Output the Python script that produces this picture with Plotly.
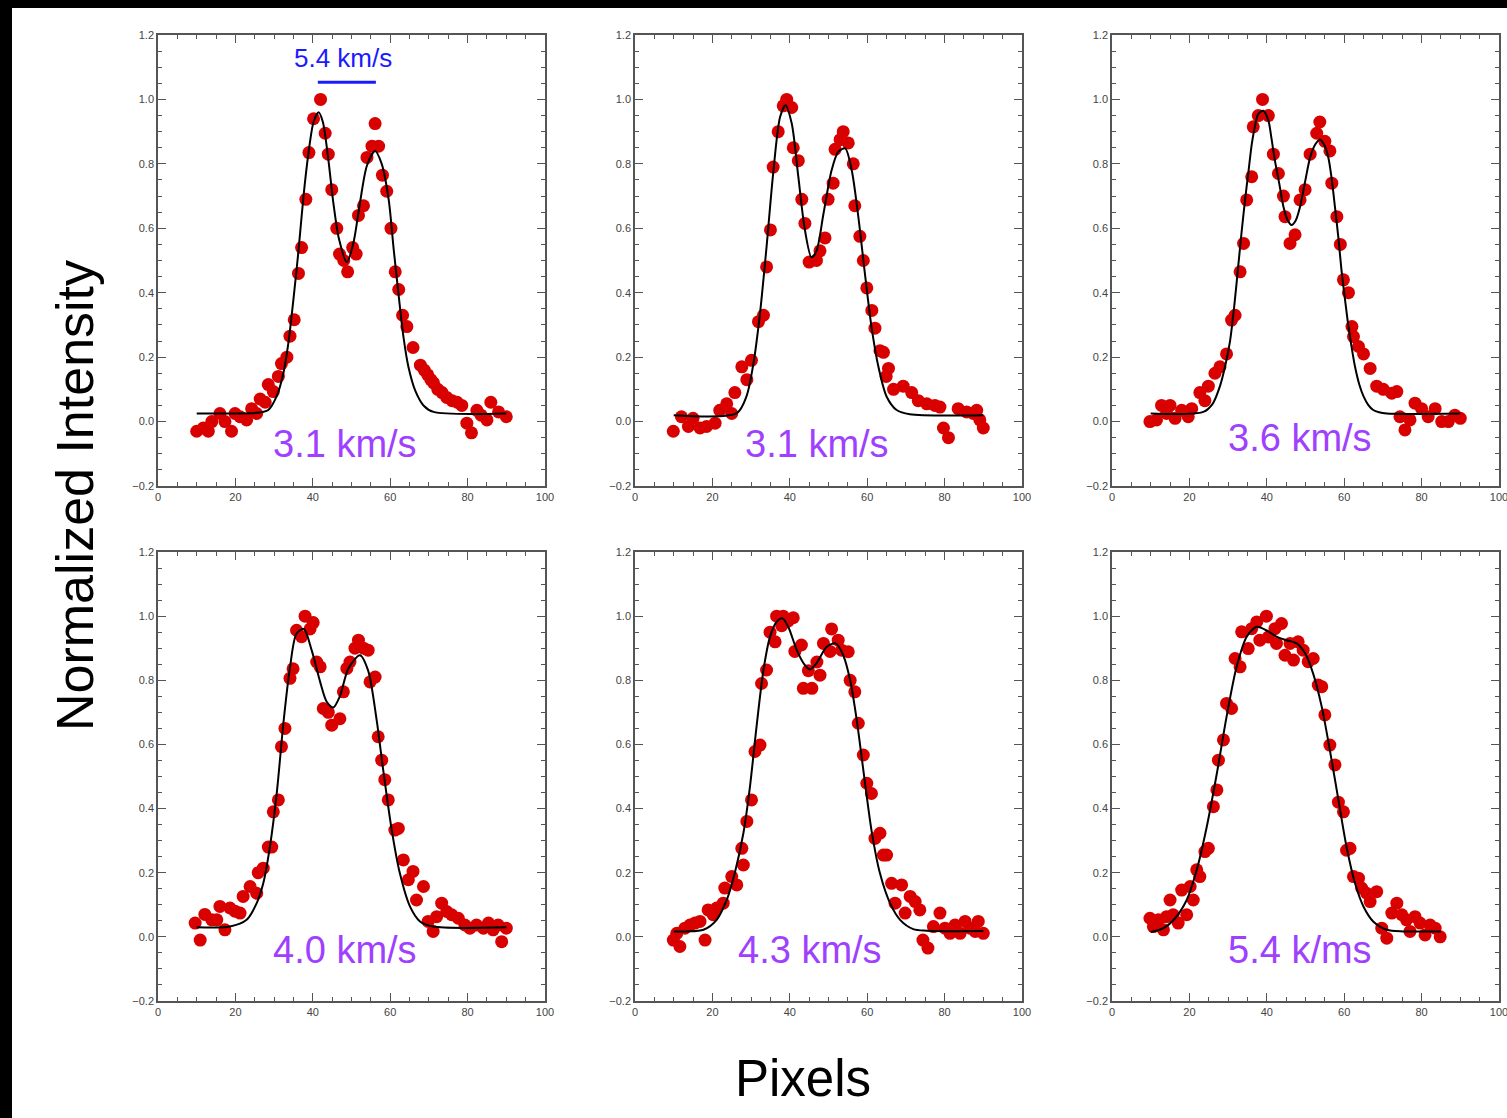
import plotly.graph_objects as go

# ---------------- data ----------------
labels = ["3.1 km/s", "3.1 km/s", "3.6 km/s", "4.0 km/s", "4.3 km/s", "5.4 k/ms"]

p1_x = [10.0, 11.7, 13.0, 13.9, 16.0, 17.3, 19.0, 19.9, 21.2, 22.9, 24.2, 25.5, 26.4, 27.7, 28.5, 29.8, 31.1, 31.9, 33.3, 34.1,
        35.2, 36.3, 37.1, 38.2, 39.0, 40.2, 42.0, 43.2, 44.0, 44.9, 46.2, 46.9, 48.0, 49.0, 50.3, 51.2, 51.8, 53.1, 54.0, 55.3,
        56.1, 57.0, 58.0, 59.1, 60.2, 61.3, 62.2, 63.2, 64.3, 65.9, 67.8, 68.8, 69.7, 70.5, 71.2, 72.3, 73.4, 74.6, 76.0, 77.3,
        78.5, 79.8, 81.0, 82.4, 83.5, 85.0, 86.0, 88.0, 90.0]
p1_y = [-0.03, -0.02, -0.03, 0.0, 0.025, 0.0, -0.03, 0.025, 0.015, 0.005, 0.04, 0.025, 0.07, 0.06, 0.115, 0.093, 0.14, 0.18, 0.2, 0.265,
        0.316, 0.46, 0.54, 0.69, 0.835, 0.94, 1.0, 0.895, 0.83, 0.72, 0.6, 0.52, 0.5, 0.465, 0.54, 0.52, 0.64, 0.67, 0.82, 0.855,
        0.925, 0.855, 0.765, 0.715, 0.6, 0.465, 0.41, 0.33, 0.295, 0.23, 0.175, 0.16, 0.145, 0.13, 0.12, 0.10, 0.09, 0.075, 0.065, 0.06,
        0.05, -0.005, -0.035, 0.035, 0.02, 0.005, 0.06, 0.03, 0.015]
f1_x = [10, 25.5, 27.0, 28.5, 30.7, 32.4, 33.7, 35.0, 36.3, 37.6, 38.9, 40.2, 41.5, 42.6, 44.0, 45.3, 46.8, 48.8, 50.5, 52.2,
        54.0, 56.1, 57.8, 59.6, 60.9, 62.2, 63.4, 64.7, 66.5, 68.6, 71.2, 90]
f1_y = [0.025, 0.027, 0.03, 0.036, 0.08, 0.15, 0.245, 0.38, 0.53, 0.70, 0.835, 0.93, 0.96, 0.93, 0.815, 0.68, 0.565, 0.495, 0.555, 0.68,
        0.795, 0.84, 0.80, 0.69, 0.535, 0.39, 0.265, 0.17, 0.095, 0.05, 0.03, 0.025]

p2_x = [9.9, 12.0, 13.8, 15.0, 16.8, 18.5, 20.7, 21.9, 23.7, 25.0, 25.8, 27.6, 28.9, 30.1, 31.9, 33.2, 34.0, 35.0, 35.7, 37.0,
        38.3, 39.2, 40.5, 40.9, 42.2, 43.1, 43.9, 45.0, 46.9, 47.8, 49.1, 49.9, 51.2, 51.7, 53.0, 53.8, 55.1, 56.4, 56.8, 58.1,
        59.0, 59.9, 61.2, 62.0, 63.3, 64.2, 64.9, 65.5, 66.8, 69.3, 71.5, 73.2, 75.4, 77.5, 78.8, 79.7, 81.0, 83.5, 85.7, 87.4,
        88.3, 89.1, 90.0]
p2_y = [-0.03, 0.015, -0.015, 0.01, -0.02, -0.015, -0.005, 0.035, 0.055, 0.025, 0.09, 0.17, 0.13, 0.19, 0.31, 0.33, 0.48, 0.595, 0.79, 0.90,
        0.98, 1.0, 0.975, 0.85, 0.81, 0.69, 0.615, 0.495, 0.50, 0.53, 0.57, 0.69, 0.74, 0.845, 0.875, 0.90, 0.865, 0.80, 0.67, 0.575,
        0.50, 0.415, 0.345, 0.29, 0.22, 0.215, 0.14, 0.165, 0.10, 0.11, 0.09, 0.065, 0.055, 0.05, 0.045, -0.02, -0.05, 0.04, 0.03, 0.025,
        0.035, 0.005, -0.02]
f2_x = [10, 26.3, 28.8, 30.6, 32.3, 34.0, 35.7, 37.5, 38.9, 40.5, 42.2, 43.9, 45.6, 46.9, 48.7, 50.8, 52.5, 54.3, 56.0, 57.7,
        59.4, 61.1, 62.9, 65.0, 67.6, 71.0, 90]
f2_y = [0.02, 0.026, 0.078, 0.18, 0.336, 0.543, 0.77, 0.946, 0.982, 0.925, 0.76, 0.595, 0.51, 0.53, 0.645, 0.78, 0.837, 0.848, 0.78, 0.636,
        0.46, 0.295, 0.17, 0.078, 0.036, 0.023, 0.02]

p3_x = [9.8, 11.5, 12.8, 14.1, 15.0, 16.3, 18.0, 19.7, 20.6, 22.7, 24.0, 24.9, 26.6, 27.9, 29.6, 30.9, 31.8, 33.1, 34.0, 34.8,
        36.1, 36.5, 37.8, 38.9, 40.4, 41.7, 43.0, 44.3, 44.7, 46.0, 47.3, 48.6, 49.9, 51.2, 52.9, 53.7, 55.0, 56.3, 56.8, 58.1,
        59.0, 59.8, 61.1, 62.0, 62.4, 63.7, 65.0, 66.7, 68.4, 70.1, 72.3, 73.6, 74.4, 75.7, 77.0, 78.3, 80.0, 81.7, 83.5, 85.2,
        86.9, 88.6, 90.0]
p3_y = [0.0, 0.005, 0.05, 0.025, 0.05, 0.01, 0.035, 0.015, 0.04, 0.09, 0.065, 0.11, 0.15, 0.17, 0.21, 0.315, 0.33, 0.465, 0.553, 0.688,
        0.76, 0.915, 0.95, 1.0, 0.95, 0.83, 0.77, 0.70, 0.636, 0.553, 0.58, 0.688, 0.72, 0.83, 0.895, 0.93, 0.87, 0.84, 0.74, 0.636,
        0.55, 0.44, 0.40, 0.295, 0.264, 0.233, 0.21, 0.165, 0.11, 0.10, 0.088, 0.093, 0.015, -0.026, 0.005, 0.057, 0.04, 0.015, 0.04, 0.0,
        0.0, 0.02, 0.01]
f3_x = [10, 23.6, 26.0, 27.9, 29.2, 30.5, 31.6, 32.6, 33.5, 34.4, 35.3, 36.1, 37.0, 37.8, 39.1, 40.4, 41.2, 42.1, 43.2, 44.3,
        45.4, 46.4, 47.5, 48.6, 49.9, 51.2, 52.5, 53.7, 54.8, 55.9, 56.8, 57.6, 58.5, 59.3, 60.2, 61.1, 62.0, 62.8, 63.9, 65.0,
        66.2, 67.5, 69.0, 71.0, 90]
f3_y = [0.025, 0.03, 0.055, 0.11, 0.17, 0.25, 0.36, 0.48, 0.59, 0.69, 0.78, 0.86, 0.92, 0.955, 0.965, 0.935, 0.88, 0.81, 0.74, 0.667,
        0.625, 0.61, 0.625, 0.667, 0.745, 0.82, 0.86, 0.875, 0.86, 0.82, 0.75, 0.667, 0.57, 0.47, 0.38, 0.295, 0.225, 0.17, 0.115, 0.078,
        0.052, 0.036, 0.029, 0.025, 0.025]

p4_x = [9.6, 10.9, 12.1, 13.9, 15.2, 16.0, 17.3, 18.6, 19.9, 21.2, 22.0, 23.8, 25.5, 25.9, 27.2, 28.5, 29.4, 29.8, 31.1, 31.9,
        32.8, 34.1, 34.9, 35.8, 37.1, 38.0, 39.3, 40.1, 41.0, 41.9, 42.7, 44.0, 44.9, 47.0, 47.9, 48.8, 49.6, 50.9, 51.8, 53.1,
        54.3, 54.8, 56.1, 56.9, 57.8, 58.6, 59.5, 61.2, 62.1, 63.4, 64.7, 65.9, 66.8, 68.6, 69.8, 71.1, 72.0, 73.3, 74.6, 75.9,
        77.6, 79.3, 80.6, 82.3, 84.1, 85.4, 86.6, 87.9, 88.8, 90.0]
p4_y = [0.043, -0.01, 0.07, 0.053, 0.053, 0.095, 0.022, 0.09, 0.08, 0.074, 0.126, 0.157, 0.136, 0.20, 0.214, 0.28, 0.28, 0.39, 0.427, 0.593,
        0.65, 0.806, 0.836, 0.956, 0.936, 1.0, 0.96, 0.98, 0.857, 0.842, 0.712, 0.70, 0.66, 0.68, 0.764, 0.837, 0.857, 0.90, 0.925, 0.90,
        0.894, 0.795, 0.81, 0.624, 0.551, 0.49, 0.427, 0.333, 0.338, 0.24, 0.178, 0.204, 0.115, 0.157, 0.048, 0.017, 0.063, 0.105, 0.079, 0.069,
        0.058, 0.037, 0.027, 0.037, 0.027, 0.043, 0.022, 0.037, -0.015, 0.027]
f4_x = [10, 18.6, 22.9, 25.5, 27.2, 28.9, 30.7, 32.4, 34.1, 35.8, 37.7, 39.7, 41.9, 43.6, 45.3, 47.0, 49.2, 52.2, 54.3, 56.5,
        58.2, 60.4, 62.5, 65.1, 67.7, 71.1, 90]
f4_y = [0.03, 0.032, 0.053, 0.105, 0.167, 0.28, 0.45, 0.666, 0.84, 0.946, 0.96, 0.894, 0.795, 0.733, 0.715, 0.75, 0.837, 0.878, 0.83, 0.676,
        0.52, 0.333, 0.198, 0.095, 0.048, 0.032, 0.03]

p5_x = [9.9, 10.8, 11.6, 12.9, 14.2, 15.5, 16.8, 18.1, 18.9, 20.2, 21.1, 22.8, 23.2, 25.0, 26.3, 27.6, 28.0, 28.9, 30.1, 31.0,
        32.3, 32.7, 34.0, 34.9, 36.2, 36.6, 37.9, 38.3, 39.6, 40.9, 41.3, 43.0, 43.5, 44.8, 45.7, 47.0, 47.8, 48.7, 50.4, 50.8,
        52.5, 53.4, 55.1, 55.6, 56.8, 57.7, 59.0, 59.9, 61.1, 62.0, 63.3, 64.2, 65.0, 66.3, 67.2, 68.9, 69.8, 71.1, 72.4, 73.6,
        74.4, 75.7, 77.1, 78.8, 80.1, 81.4, 82.7, 84.0, 85.3, 86.6, 87.9, 88.7, 90.0]
p5_y = [-0.01, 0.011, -0.03, 0.027, 0.037, 0.043, 0.048, -0.01, 0.084, 0.069, 0.09, 0.105, 0.152, 0.188, 0.162, 0.276, 0.224, 0.36, 0.427, 0.578,
        0.598, 0.79, 0.832, 0.95, 0.92, 1.0, 0.97, 1.0, 0.985, 0.995, 0.89, 0.91, 0.775, 0.83, 0.775, 0.857, 0.816, 0.915, 0.89, 0.96,
        0.925, 0.894, 0.889, 0.80, 0.764, 0.666, 0.567, 0.479, 0.447, 0.307, 0.323, 0.255, 0.255, 0.167, 0.105, 0.162, 0.074, 0.126, 0.11, 0.084,
        -0.01, -0.035, 0.032, 0.074, 0.027, 0.011, 0.037, 0.011, 0.048, 0.027, 0.017, 0.048, 0.011]
f5_x = [10, 13.3, 17.7, 21.1, 23.7, 25.8, 28.0, 29.7, 31.4, 33.2, 34.9, 36.6, 38.1, 39.6, 41.8, 43.9, 45.2, 46.9, 49.5, 51.9,
        53.8, 55.6, 57.3, 59.0, 61.1, 63.3, 65.9, 68.5, 71.9, 75.4, 90]
f5_y = [0.017, 0.017, 0.022, 0.053, 0.115, 0.2, 0.323, 0.468, 0.655, 0.832, 0.936, 0.982, 0.993, 0.967, 0.894, 0.847, 0.834, 0.853, 0.904, 0.915,
        0.878, 0.80, 0.676, 0.52, 0.333, 0.198, 0.105, 0.053, 0.024, 0.019, 0.018]

p6_x = [9.8, 10.7, 12.0, 13.3, 14.1, 15.0, 15.8, 17.1, 18.0, 19.3, 20.2, 21.0, 21.9, 22.7, 24.0, 24.9, 26.2, 27.1, 27.5, 28.8,
        29.6, 30.9, 31.8, 33.1, 33.5, 35.2, 36.1, 37.4, 38.2, 39.9, 40.4, 42.1, 42.5, 43.8, 44.7, 46.0, 46.9, 48.1, 49.4, 50.7,
        52.0, 53.3, 54.2, 55.0, 56.3, 57.6, 58.5, 59.8, 60.6, 61.5, 62.4, 63.7, 64.5, 65.8, 66.7, 68.4, 69.7, 71.0, 72.3, 73.6,
        74.9, 76.1, 77.0, 78.3, 79.6, 80.9, 82.2, 83.5, 84.8]
p6_y = [0.058, 0.032, 0.053, 0.022, 0.063, 0.115, 0.069, 0.043, 0.146, 0.069, 0.157, 0.115, 0.209, 0.188, 0.266, 0.276, 0.406, 0.458, 0.551, 0.614,
        0.728, 0.712, 0.868, 0.842, 0.951, 0.899, 0.961, 0.982, 0.925, 1.0, 0.935, 0.961, 0.915, 0.977, 0.878, 0.915, 0.863, 0.92, 0.894, 0.858,
        0.868, 0.785, 0.78, 0.692, 0.598, 0.536, 0.42, 0.39, 0.27, 0.276, 0.188, 0.183, 0.152, 0.136, 0.11, 0.141, 0.027, -0.004, 0.074, 0.105,
        0.069, 0.053, 0.017, 0.063, 0.043, 0.006, 0.037, 0.027, 0.0]
f6_x = [10, 13.3, 16.3, 19.3, 21.9, 24.5, 27.1, 29.6, 32.2, 34.8, 37.4, 39.9, 42.5, 45.1, 47.7, 49.9, 52.0, 54.2, 56.3, 58.5,
        60.6, 62.8, 65.0, 67.5, 71.0, 75.3, 85]
f6_y = [0.015, 0.027, 0.058, 0.115, 0.209, 0.344, 0.51, 0.686, 0.842, 0.936, 0.967, 0.956, 0.936, 0.925, 0.915, 0.884, 0.82, 0.717, 0.582, 0.427,
        0.281, 0.167, 0.094, 0.048, 0.022, 0.017, 0.017]

points = [(p1_x, p1_y), (p2_x, p2_y), (p3_x, p3_y), (p4_x, p4_y), (p5_x, p5_y), (p6_x, p6_y)]
fits = [(f1_x, f1_y), (f2_x, f2_y), (f3_x, f3_y), (f4_x, f4_y), (f5_x, f5_y), (f6_x, f6_y)]
for a, b in points + fits:
    assert len(a) == len(b), (len(a), len(b))

x_ticks = [0, 20, 40, 60, 80, 100]
y_ticks = [-0.2, 0.0, 0.2, 0.4, 0.6, 0.8, 1.0, 1.2]

# label positions (data coordinates)
label_pos = [(48.3, -0.07), (47.0, -0.07), (48.6, -0.05), (48.3, -0.04), (45.2, -0.04), (48.6, -0.04)]
bar_label = "5.4 km/s"

# ---------------- layout ----------------
W, H = 1507, 1118
col_px = [(158, 545), (635, 1022), (1112, 1499)]
row_px = [(35, 486), (552, 1001)]

FONT = "Liberation Sans, Arial, Helvetica, sans-serif"
AX = "#555555"
RED = "#d90000"
PURPLE = "#a040ff"
BLUE = "#1a1aff"

fig = go.Figure()
layout = dict(
    width=W, height=H,
    margin=dict(l=0, r=0, t=0, b=0),
    paper_bgcolor="white", plot_bgcolor="white",
    showlegend=False,
    font=dict(family=FONT),
    template="none",
)

annotations = []
for i in range(6):
    r, c = divmod(i, 3)
    n = "" if i == 0 else str(i + 1)
    xa, ya = "xaxis" + n, "yaxis" + n
    xr, yr = "x" + n, "y" + n
    x0, x1 = col_px[c]
    y0, y1 = row_px[r]
    layout[xa] = dict(
        domain=[x0 / W, x1 / W], anchor=yr, range=[0, 100],
        tickmode="array", tickvals=x_ticks, ticktext=[str(v) for v in x_ticks],
        ticks="inside", ticklen=8, tickwidth=1.2, tickcolor=AX,
        showline=True, linecolor=AX, linewidth=1.5, mirror="ticks",
        showgrid=False, zeroline=False, ticklabeloverflow="allow",
        tickfont=dict(size=11, color="#444444", family=FONT),
        minor=dict(dtick=5, tick0=0, ticks="inside", ticklen=4, tickcolor=AX, tickwidth=1, showgrid=False),
    )
    layout[ya] = dict(
        domain=[1 - y1 / H, 1 - y0 / H], anchor=xr, range=[-0.2, 1.2],
        tickmode="array", tickvals=y_ticks, ticktext=[("\u22120.2" if v < 0 else f"{v:.1f}") for v in y_ticks],
        ticks="inside", ticklen=8, tickwidth=1.2, tickcolor=AX,
        showline=True, linecolor=AX, linewidth=1.5, mirror="ticks",
        showgrid=False, zeroline=False, ticklabeloverflow="allow",
        tickfont=dict(size=11, color="#444444", family=FONT),
        minor=dict(dtick=0.05, tick0=0, ticks="inside", ticklen=4, tickcolor=AX, tickwidth=1, showgrid=False),
    )
    px_, py_ = points[i]
    fx_, fy_ = fits[i]
    fig.add_trace(go.Scatter(x=px_, y=py_, mode="markers", xaxis=xr, yaxis=yr,
                             marker=dict(color=RED, size=13, line=dict(width=0)), hoverinfo="skip"))
    fig.add_trace(go.Scatter(x=fx_, y=fy_, mode="lines", xaxis=xr, yaxis=yr,
                             line=dict(color="black", width=2, shape="spline", smoothing=0.8), hoverinfo="skip"))
    lx, ly = label_pos[i]
    annotations.append(dict(x=lx, y=ly, xref=xr, yref=yr, text=labels[i], showarrow=False,
                            font=dict(size=38, color=PURPLE, family=FONT), xanchor="center", yanchor="middle"))

# blue velocity bar in the first panel
fig.add_trace(go.Scatter(x=[41.3, 56.3], y=[1.053, 1.053], mode="lines", xaxis="x", yaxis="y",
                         line=dict(color=BLUE, width=3), hoverinfo="skip"))
annotations.append(dict(x=47.8, y=1.128, xref="x", yref="y", text=bar_label, showarrow=False,
                        font=dict(size=26, color=BLUE, family=FONT), xanchor="center", yanchor="middle"))

annotations.append(dict(x=75 / W, y=1 - 496 / H, xref="paper", yref="paper", text="Normalized Intensity",
                        showarrow=False, textangle=-90, font=dict(size=52, color="black", family=FONT),
                        xanchor="center", yanchor="middle"))
annotations.append(dict(x=803 / W, y=1 - 1078 / H, xref="paper", yref="paper", text="Pixels",
                        showarrow=False, font=dict(size=51, color="black", family=FONT),
                        xanchor="center", yanchor="middle"))
layout["annotations"] = annotations

layout["shapes"] = [
    dict(type="rect", xref="paper", yref="paper", x0=0, x1=12 / W, y0=0, y1=1,
         fillcolor="black", line=dict(width=0), layer="above"),
    dict(type="rect", xref="paper", yref="paper", x0=0, x1=1, y0=1 - 8 / H, y1=1,
         fillcolor="black", line=dict(width=0), layer="above"),
]

fig.update_layout(**layout)
fig.write_html(
    "out.html",
    config={"displayModeBar": False},
    post_script="document.body.style.margin='0';document.body.style.padding='0';document.body.style.overflow='hidden';",
)
